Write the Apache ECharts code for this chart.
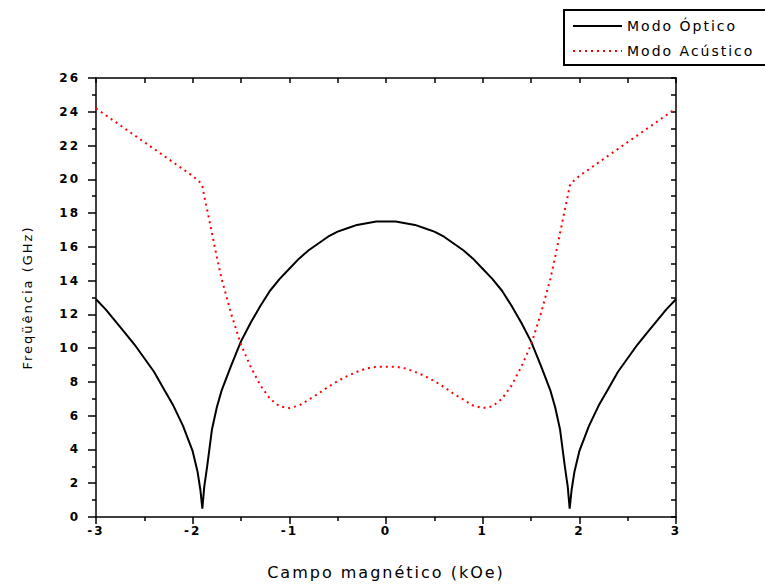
<!DOCTYPE html>
<html>
<head>
<meta charset="utf-8">
<script src="https://cdn.jsdelivr.net/npm/echarts@6/dist/echarts.min.js"></script>
<style>
html, body { margin: 0; padding: 0; background: #ffffff; }
#chart { width: 765px; height: 585px; }
/* the original plot uses a widely spaced bitmap font */
#chart svg text { letter-spacing: 2px; }
</style>
</head>
<body>
<div id="chart"></div>
<script>
// campo magnetico (kOe)
var campo = [
    -3.0, -2.9, -2.8, -2.7, -2.6, -2.5, -2.4, -2.3, -2.2, -2.1, -2.0, -1.95, -1.92, -1.9, -1.88, -1.85,
    -1.8, -1.75, -1.7, -1.6, -1.5, -1.4, -1.3, -1.2, -1.1, -1.0, -0.9, -0.8, -0.7, -0.6, -0.5, -0.4,
    -0.3, -0.2, -0.1, 0,
    0.1, 0.2, 0.3, 0.4, 0.5, 0.6, 0.7, 0.8, 0.9, 1.0, 1.1, 1.2, 1.3, 1.4, 1.5, 1.6, 1.7, 1.75, 1.8,
    1.85, 1.88, 1.9, 1.92, 1.95, 2.0, 2.1, 2.2, 2.3, 2.4, 2.5, 2.6, 2.7, 2.8, 2.9, 3.0
];

var modoOptico = [
    12.9, 12.3, 11.6, 10.9, 10.2, 9.4, 8.6, 7.6, 6.6, 5.4, 3.9, 2.7, 1.6, 0.5, 1.8, 3.0,
    5.2, 6.5, 7.5, 9.0, 10.4, 11.5, 12.5, 13.4, 14.1, 14.7, 15.3, 15.8, 16.2, 16.6, 16.9, 17.1,
    17.3, 17.4, 17.5, 17.5,
    17.5, 17.4, 17.3, 17.1, 16.9, 16.6, 16.2, 15.8, 15.3, 14.7, 14.1, 13.4, 12.5, 11.5, 10.4, 9.0, 7.5, 6.5, 5.2,
    3.0, 1.8, 0.5, 1.6, 2.7, 3.9, 5.4, 6.6, 7.6, 8.6, 9.4, 10.2, 10.9, 11.6, 12.3, 12.9
];

var modoAcustico = [
    24.2, 23.8, 23.4, 23.0, 22.6, 22.2, 21.8, 21.4, 21.0, 20.6, 20.2, 19.95, 19.8, 19.6, 19.0, 18.2,
    16.8, 15.4, 14.1, 12.0, 10.2, 8.9, 7.8, 7.0, 6.55, 6.45, 6.6, 6.95, 7.3, 7.7, 8.05, 8.35,
    8.6, 8.8, 8.9, 8.9,
    8.9, 8.8, 8.6, 8.35, 8.05, 7.7, 7.3, 6.95, 6.6, 6.45, 6.55, 7.0, 7.8, 8.9, 10.2, 12.0, 14.1, 15.4, 16.8,
    18.2, 19.0, 19.6, 19.8, 19.95, 20.2, 20.6, 21.0, 21.4, 21.8, 22.2, 22.6, 23.0, 23.4, 23.8, 24.2
];

var nomes = ['Modo Óptico', 'Modo Acústico'];

function pares(xs, ys) {
    var out = [];
    for (var i = 0; i < xs.length; i++) {
        out.push([xs[i], ys[i]]);
    }
    return out;
}

var fonte = 'DejaVu Sans, sans-serif';
var preto = '#000000';

var myChart = echarts.init(document.getElementById('chart'), null, { renderer: 'svg' });

var option = {
    animation: false,
    backgroundColor: '#ffffff',
    grid: { left: 96, right: 89, top: 78, bottom: 67 },
    // legend frame is open on the right: it runs past the page edge in the original
    graphic: [
        {
            type: 'polyline',
            z: -1,
            shape: { points: [[800, 10], [564, 10], [564, 65], [800, 65]] },
            style: { fill: null, stroke: preto, lineWidth: 2 }
        }
    ],
    legend: {
        orient: 'vertical',
        left: 564,
        top: 10,
        padding: [9, 8, 6, 8],
        itemWidth: 49,
        itemHeight: 14,
        itemGap: 11,
        itemStyle: { opacity: 0 },
        textStyle: { fontFamily: fonte, fontSize: 14, color: preto },
        data: nomes
    },
    xAxis: [
        {
            type: 'value',
            min: -3,
            max: 3,
            interval: 1,
            name: 'Campo magnético (kOe)',
            nameLocation: 'middle',
            nameGap: 47,
            nameTextStyle: { fontFamily: fonte, fontSize: 16, color: preto },
            axisLine: { onZero: false, lineStyle: { color: preto, width: 1.5 } },
            axisTick: { inside: false, length: 7, lineStyle: { color: preto, width: 1.5 } },
            minorTick: { show: true, splitNumber: 2, length: 4, lineStyle: { color: preto, width: 1.5 } },
            axisLabel: { fontFamily: fonte, fontSize: 12, fontWeight: 'bold', color: preto, margin: 8 },
            splitLine: { show: false }
        },
        {
            type: 'value',
            position: 'top',
            min: -3,
            max: 3,
            interval: 1,
            axisLine: { onZero: false, lineStyle: { color: preto, width: 1.5 } },
            axisTick: { inside: true, length: 5, lineStyle: { color: preto, width: 1.5 } },
            minorTick: { show: true, splitNumber: 2, length: 5, lineStyle: { color: preto, width: 1.5 } },
            axisLabel: { show: false },
            splitLine: { show: false }
        }
    ],
    yAxis: [
        {
            type: 'value',
            min: 0,
            max: 26,
            interval: 2,
            name: 'Freqüência (GHz)',
            nameLocation: 'middle',
            nameGap: 62,
            nameTextStyle: { fontFamily: fonte, fontSize: 13, color: preto },
            axisLine: { show: true, onZero: false, lineStyle: { color: preto, width: 1.5 } },
            axisTick: { show: true, inside: false, length: 8, lineStyle: { color: preto, width: 1.5 } },
            minorTick: { show: true, splitNumber: 2, length: 4, lineStyle: { color: preto, width: 1.5 } },
            axisLabel: { fontFamily: fonte, fontSize: 12, fontWeight: 'bold', color: preto, margin: 16 },
            splitLine: { show: false }
        },
        {
            type: 'value',
            position: 'right',
            min: 0,
            max: 26,
            interval: 2,
            axisLine: { show: true, onZero: false, lineStyle: { color: preto, width: 1.5 } },
            axisTick: { show: true, inside: true, length: 5, lineStyle: { color: preto, width: 1.5 } },
            minorTick: { show: true, splitNumber: 2, length: 5, lineStyle: { color: preto, width: 1.5 } },
            axisLabel: { show: false },
            splitLine: { show: false }
        }
    ],
    series: [
        {
            name: nomes[0],
            type: 'line',
            showSymbol: false,
            symbol: 'none',
            color: preto,
            lineStyle: { color: preto, width: 2 },
            data: pares(campo, modoOptico)
        },
        {
            name: nomes[1],
            type: 'line',
            showSymbol: false,
            symbol: 'none',
            color: '#ff0000',
            lineStyle: { color: '#ff0000', width: 2, type: [2, 4] },
            data: pares(campo, modoAcustico)
        }
    ]
};

myChart.setOption(option);

window.onresize = function () {
    myChart.resize();
};
</script>
</body>
</html>
